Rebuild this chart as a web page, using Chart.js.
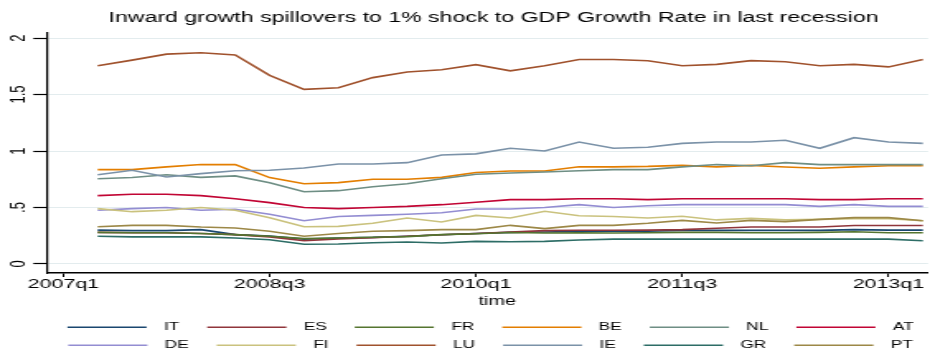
<!DOCTYPE html>
<html>
<head>
<meta charset="utf-8">
<script src="https://cdn.jsdelivr.net/npm/chart.js@4.4.0/dist/chart.umd.min.js"></script>
<style>
  html, body { margin: 0; padding: 0; background: #fff; overflow: hidden; }
  /* chart is laid out narrow, then widened like the Stata export */
  #wrap { width: 564px; height: 353px; transform: scaleX(1.64894); transform-origin: 0 0; }
</style>
</head>
<body>
<div id="wrap"><canvas id="spill" width="564" height="353"></canvas></div>
<script>
// quarters with an observation
const periods = ['2007q2', '2007q3', '2007q4', '2008q1', '2008q2', '2008q3', '2008q4',
  '2009q1', '2009q2', '2009q3', '2009q4', '2010q1', '2010q2', '2010q3', '2010q4',
  '2011q1', '2011q2', '2011q3', '2011q4', '2012q1', '2012q2', '2012q3', '2012q4',
  '2013q1', '2013q2'];

const xTickLabels = ['2007q1', '2008q3', '2010q1', '2011q3', '2013q1'];
const yTickValues = [0, 0.5, 1, 1.5, 2];
const yTickLabels = ['0', '.5', '1', '1.5', '2'];

const countries = ['IT', 'ES', 'FR', 'BE', 'NL', 'AT', 'DE', 'FI', 'LU', 'IE', 'GR', 'PT'];

// inward spillover per country
const IT = [0.30, 0.295, 0.295, 0.304, 0.26, 0.248, 0.22, 0.23, 0.235, 0.245, 0.258, 0.27, 0.28, 0.283, 0.29, 0.29, 0.29, 0.297, 0.297, 0.297, 0.297, 0.297, 0.304, 0.30, 0.30];
const ES = [0.28, 0.277, 0.277, 0.27, 0.26, 0.24, 0.206, 0.222, 0.232, 0.245, 0.258, 0.27, 0.283, 0.295, 0.298, 0.298, 0.30, 0.304, 0.316, 0.327, 0.327, 0.327, 0.34, 0.34, 0.34];
const FR = [0.28, 0.277, 0.277, 0.27, 0.26, 0.245, 0.224, 0.23, 0.236, 0.242, 0.26, 0.268, 0.278, 0.274, 0.277, 0.274, 0.277, 0.28, 0.28, 0.277, 0.277, 0.28, 0.285, 0.277, 0.277];
const BE = [0.835, 0.835, 0.86, 0.88, 0.88, 0.765, 0.71, 0.72, 0.75, 0.75, 0.767, 0.81, 0.823, 0.823, 0.86, 0.86, 0.864, 0.873, 0.86, 0.873, 0.858, 0.847, 0.86, 0.87, 0.87];
const NL = [0.755, 0.765, 0.79, 0.767, 0.78, 0.72, 0.64, 0.649, 0.684, 0.71, 0.755, 0.794, 0.805, 0.814, 0.826, 0.835, 0.835, 0.86, 0.88, 0.87, 0.897, 0.88, 0.88, 0.88, 0.88];
const AT = [0.605, 0.617, 0.617, 0.605, 0.578, 0.543, 0.50, 0.49, 0.50, 0.51, 0.525, 0.546, 0.57, 0.57, 0.578, 0.578, 0.57, 0.578, 0.578, 0.578, 0.578, 0.57, 0.57, 0.578, 0.578];
const DE = [0.475, 0.49, 0.50, 0.475, 0.484, 0.44, 0.383, 0.42, 0.43, 0.44, 0.454, 0.487, 0.487, 0.50, 0.525, 0.50, 0.516, 0.525, 0.525, 0.525, 0.525, 0.51, 0.525, 0.51, 0.51];
const FI = [0.49, 0.463, 0.475, 0.50, 0.475, 0.41, 0.33, 0.333, 0.36, 0.407, 0.372, 0.43, 0.407, 0.466, 0.427, 0.42, 0.407, 0.422, 0.39, 0.404, 0.39, 0.395, 0.40, 0.40, 0.383];
const LU = [1.755, 1.805, 1.858, 1.87, 1.85, 1.67, 1.546, 1.56, 1.65, 1.70, 1.72, 1.765, 1.71, 1.755, 1.81, 1.81, 1.80, 1.755, 1.767, 1.80, 1.79, 1.755, 1.767, 1.745, 1.81];
const IE = [0.79, 0.83, 0.77, 0.80, 0.825, 0.83, 0.85, 0.885, 0.885, 0.897, 0.965, 0.975, 1.024, 1.0, 1.08, 1.024, 1.033, 1.068, 1.08, 1.08, 1.095, 1.024, 1.118, 1.08, 1.068];
const GR = [0.245, 0.24, 0.24, 0.24, 0.23, 0.215, 0.174, 0.177, 0.188, 0.195, 0.186, 0.20, 0.197, 0.20, 0.212, 0.22, 0.22, 0.22, 0.22, 0.22, 0.22, 0.22, 0.22, 0.22, 0.206];
const PT = [0.33, 0.342, 0.342, 0.327, 0.318, 0.29, 0.245, 0.27, 0.29, 0.295, 0.304, 0.304, 0.342, 0.313, 0.342, 0.342, 0.36, 0.386, 0.363, 0.386, 0.375, 0.395, 0.41, 0.41, 0.383];

const seriesValues = [IT, ES, FR, BE, NL, AT, DE, FI, LU, IE, GR, PT];

// s2color palette
const colors = ['#1a476f', '#90353b', '#55752f', '#e37e00', '#6e8e84', '#c10534',
  '#938dd2', '#cac27e', '#a0522d', '#7b92a8', '#2d6d66', '#9c8847'];

// quarters since 2007q1
function qIndex(label) {
  const parts = label.split('q');
  return (Number(parts[0]) - 2007) * 4 + Number(parts[1]) - 1;
}

const FONT = 'Liberation Sans, Arial, Helvetica, sans-serif';

const datasets = countries.map((c, i) => ({
  label: '\u2002' + c + '\u2002\u2009\u2009',
  data: seriesValues[i].map((v, j) => ({ x: qIndex(periods[j]), y: v })),
  borderColor: colors[i],
  backgroundColor: colors[i],
  borderWidth: 1.6,
  pointRadius: 0,
  tension: 0,
  fill: false,
  order: countries.length - i   // later series drawn on top
}));

// centre title and legend over the plot region
const shiftBlocks = {
  id: 'shiftBlocks',
  afterLayout(chart) {
    chart.titleBlock.left += 15.6;
    chart.titleBlock.right += 15.6;
    chart.legend.left += 18.5;
    chart.legend.right += 18.5;
  }
};

new Chart(document.getElementById('spill').getContext('2d'), {
  type: 'line',
  data: { datasets: datasets },
  plugins: [shiftBlocks],
  options: {
    responsive: false,
    animation: false,
    events: [],
    layout: { padding: { left: 4.6, right: 1.2, top: 0, bottom: -7.5 } },
    plugins: {
      tooltip: { enabled: false },
      title: {
        display: true,
        text: 'Inward growth spillovers to 1% shock to GDP Growth Rate in last recession',
        color: '#000',
        font: { family: FONT, size: 14, weight: 'normal' },
        padding: { top: 10.1, bottom: 6.1 }
      },
      legend: {
        position: 'bottom',
        labels: {
          usePointStyle: true,
          pointStyle: 'line',
          pointStyleWidth: 48,
          color: '#000',
          font: { family: FONT, size: 10.5 },
          padding: 7.5,
          sort: (a, b) => a.datasetIndex - b.datasetIndex
        }
      }
    },
    scales: {
      x: {
        type: 'linear',
        min: -0.48,
        max: 25.15,
        bounds: 'data',
        afterBuildTicks: scale => {
          scale.ticks = xTickLabels.map(l => ({ value: qIndex(l) }));
        },
        ticks: {
          color: '#000',
          font: { family: FONT, size: 13 },
          padding: 0,
          maxRotation: 0,
          autoSkip: false,
          callback: (value, i) => xTickLabels[i]
        },
        grid: { drawOnChartArea: false, tickColor: '#000', tickLength: 4, tickWidth: 1 },
        border: { color: '#000', width: 1.5 },
        title: {
          display: true,
          text: '\u2002\u2002time',
          color: '#000',
          font: { family: FONT, size: 12 },
          padding: { top: 2.2, bottom: 5.3 }
        }
      },
      y: {
        min: -0.08,
        max: 2.045,
        bounds: 'data',
        afterBuildTicks: scale => {
          scale.ticks = yTickValues.map(v => ({ value: v }));
        },
        ticks: {
          color: '#000',
          font: { family: FONT, size: 13 },
          padding: 0,
          minRotation: 90,
          maxRotation: 90,
          crossAlign: 'center',
          callback: (value, i) => yTickLabels[i]
        },
        grid: { color: '#e3ecee', lineWidth: 1, tickColor: '#000', tickLength: 8.2, tickWidth: 1.2 },
        border: { color: '#000', width: 1.2 }
      }
    }
  }
});
</script>
</body>
</html>
